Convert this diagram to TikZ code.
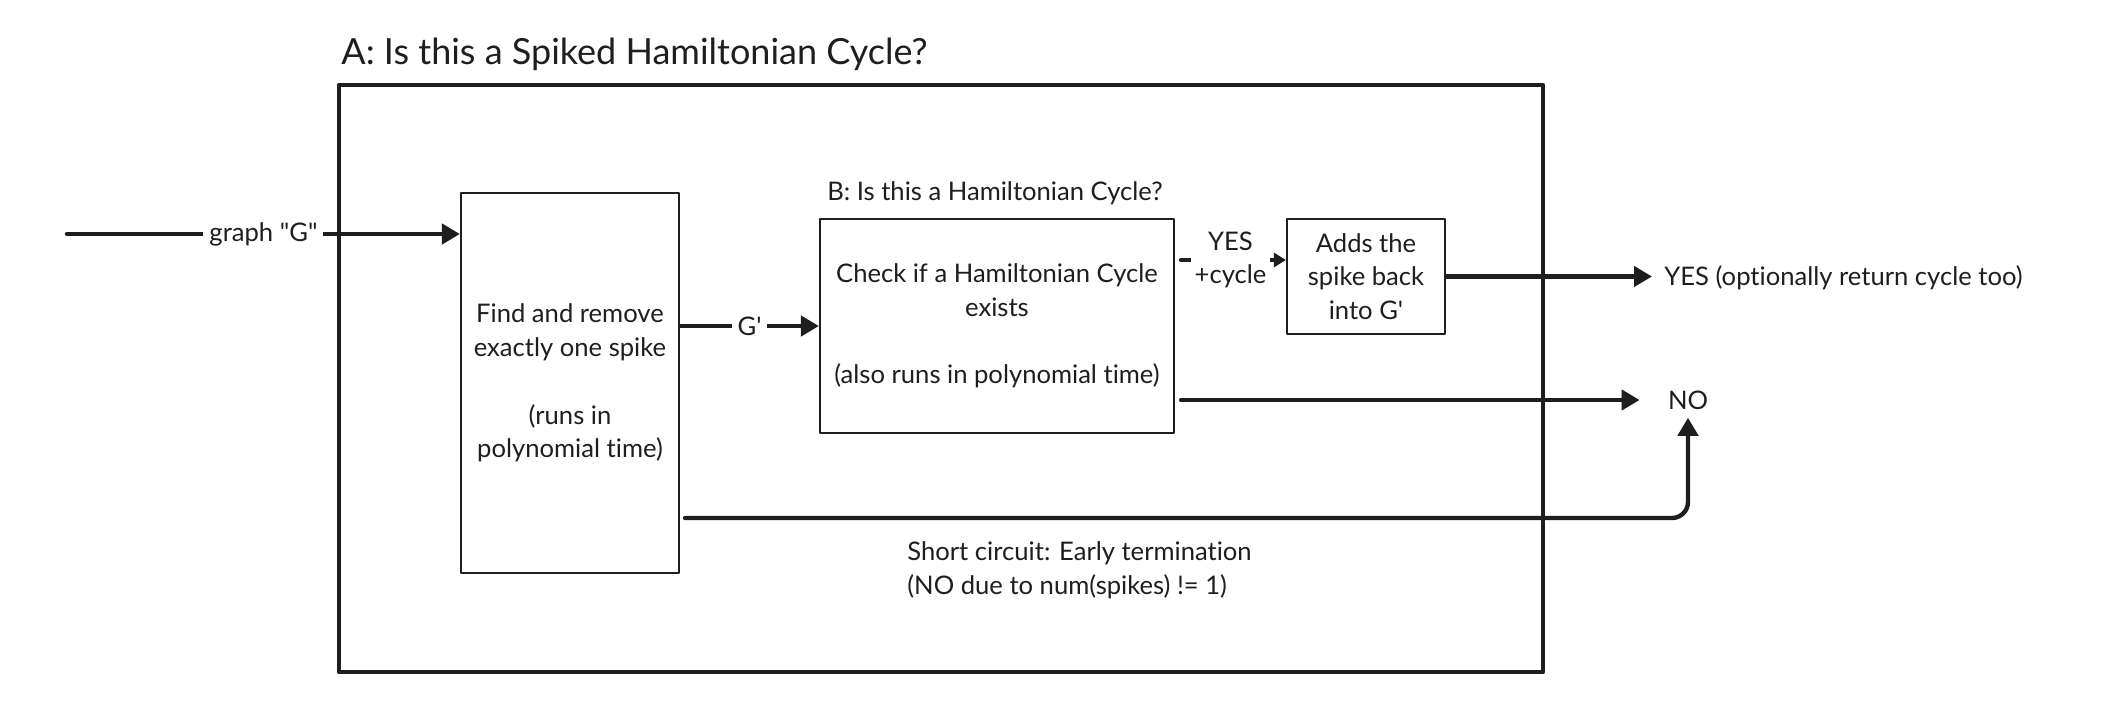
\documentclass[tikz,border=0pt]{standalone}
\usepackage{fontspec}
\setmainfont{Lato}[Ligatures={NoCommon}]
\usetikzlibrary{arrows.meta}
\definecolor{ink}{HTML}{1E1E1E}

\begin{document}
\begin{tikzpicture}[x=0.5pt, y=-0.5pt, ink, line join=round,
  box/.style={draw=ink, line width=1.1pt, align=center, inner sep=0pt, font=\fontsize{12.8}{16.9}\selectfont},
  txt/.style={align=center, inner sep=1pt, font=\fontsize{12.8}{16.9}\selectfont},
  arr/.style={draw=ink, line width=2.2pt, line cap=round, -{Triangle[length=9pt,width=10pt]}}]
\useasboundingbox (0,0) rectangle (2109,724);

% outer frame A
\draw[line width=2.2pt] (339,85) rectangle (1543,672);
\node[anchor=west, inner sep=0pt, font=\fontsize{18}{20}\selectfont] (ttlA) at (341,54) {A: Is this a Spiked Hamiltonian Cycle?};

% the three steps
\node[box, minimum width=109pt, minimum height=190pt] (fr) at (570,383)
  {Find and remove\\exactly one spike\\[16.9pt](runs in\\polynomial time)};
\node[box, minimum width=177pt, minimum height=107pt] (ch) at (997,326)
  {Check if a Hamiltonian Cycle\\exists\\[16.9pt](also runs in polynomial time)};
\node[txt] (ttlB) at (995,193) {B: Is this a Hamiltonian Cycle?};
\node[box, minimum width=79pt, minimum height=57.5pt] (ad) at (1366,276.5)
  {Adds the\\spike back\\into G\textquotesingle};

% results
\node[txt, anchor=west] (yes) at (1662,277.5) {YES (optionally return cycle too)};
\node[txt] (no) at (1688,400) {NO};
\node[txt, align=left, anchor=north west] (sclbl) at (905,539)
  {Short circuit: Early termination\\(NO due to num(spikes) != 1)};

% connectors
\coordinate (src) at (67,234);
\coordinate (yc) at (0,260);
\coordinate (sc) at (0,518);
\draw[arr] (src) -- node[txt, fill=white, inner sep=3pt] {graph \textquotedbl G\textquotedbl} (fr.west |- src);
\draw[arr] (fr.east |- ch) -- node[txt, fill=white, inner sep=3pt] {G\textquotesingle} (ch.west);
\draw[arr, -{Triangle[length=6pt,width=7pt]}, shorten <=3pt] (ch.east |- yc) -- node[txt, fill=white, inner sep=2pt] {YES\\+cycle} (ad.west |- yc);
\draw[arr, shorten >=5pt] (ad.east) -- (ad.east -| yes.west);
\draw[arr, shorten <=3pt, shorten >=13pt] (ch.east |- no) -- (no.west);
\draw[arr, rounded corners=8pt, shorten <=2.5pt, shorten >=3pt] (fr.east |- sc) -- (no |- sc) -- (no.south);

\end{tikzpicture}
\end{document}
